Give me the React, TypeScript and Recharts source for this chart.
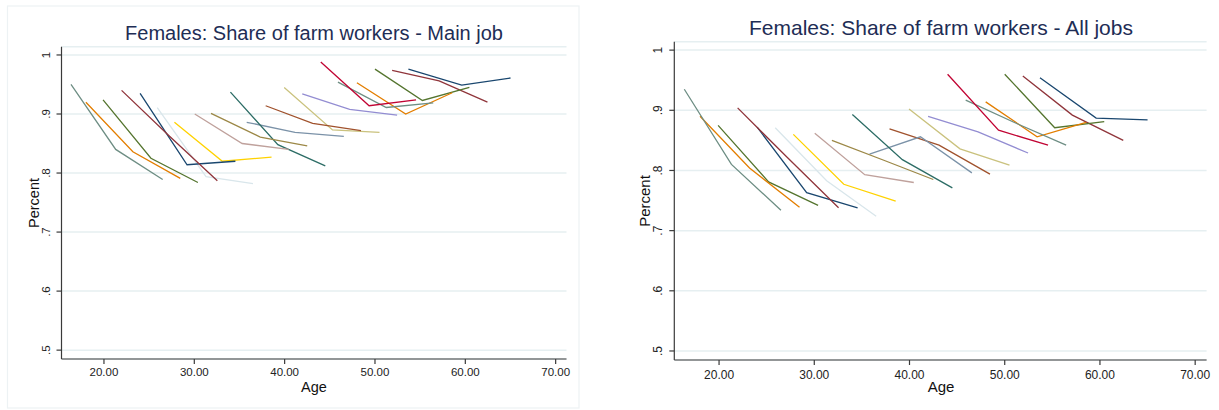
import React from 'react';
import { LineChart, Line, XAxis, YAxis, CartesianGrid } from 'recharts';

// Cohorts, youngest first (by age at first observation)
const cohortLabels = ['c16', 'c18', 'c20', 'c22', 'c24', 'c26', 'c28', 'c30', 'c32', 'c34', 'c36', 'c38', 'c40', 'c42', 'c44', 'c46', 'c48', 'c50', 'c52', 'c54'];

const cohortAges: number[][] = [
  [16.35, 21.3, 26.5],
  [18.0, 23.2, 28.45],
  [19.9, 25.2, 30.4],
  [21.95, 27.2, 32.55],
  [24.0, 29.2, 34.55],
  [25.9, 31.3, 36.5],
  [27.8, 33.1, 38.55],
  [30.05, 35.3, 40.45],
  [31.85, 37.3, 42.5],
  [34.0, 39.25, 44.5],
  [35.8, 41.15, 46.55],
  [37.9, 43.1, 48.45],
  [39.95, 45.3, 50.5],
  [41.95, 47.2, 52.45],
  [44.0, 49.35, 54.55],
  [45.9, 51.25, 56.45],
  [48.0, 53.4, 58.55],
  [50.0, 55.25, 60.45],
  [51.9, 57.1, 62.45],
  [53.7, 59.6, 65.0],
];

const mainJobShare: number[][] = [
  [0.950, 0.840, 0.789],
  [0.920, 0.836, 0.791],
  [0.924, 0.825, 0.784],
  [0.940, 0.863, 0.787],
  [0.935, 0.814, 0.820],
  [0.911, 0.794, 0.782],
  [0.886, 0.820, 0.827],
  [0.900, 0.850, 0.840],
  [0.901, 0.861, 0.846],
  [0.937, 0.848, 0.812],
  [0.886, 0.869, 0.862],
  [0.914, 0.884, 0.872],
  [0.945, 0.873, 0.869],
  [0.934, 0.908, 0.898],
  [0.988, 0.914, 0.924],
  [0.954, 0.911, 0.919],
  [0.953, 0.900, 0.936],
  [0.976, 0.923, 0.945],
  [0.974, 0.956, 0.920],
  [0.976, 0.949, 0.961],
];

const allJobsShare: number[][] = [
  [0.935, 0.810, 0.734],
  [0.890, 0.804, 0.739],
  [0.875, 0.781, 0.742],
  [0.904, 0.821, 0.738],
  [0.872, 0.763, 0.738],
  [0.871, 0.783, 0.724],
  [0.860, 0.777, 0.749],
  [0.862, 0.793, 0.780],
  [0.850, 0.817, 0.785],
  [0.893, 0.818, 0.771],
  [0.827, 0.856, 0.796],
  [0.869, 0.842, 0.794],
  [0.902, 0.836, 0.809],
  [0.890, 0.864, 0.829],
  [0.960, 0.867, 0.842],
  [0.917, 0.878, 0.842],
  [0.914, 0.856, 0.880],
  [0.960, 0.871, 0.881],
  [0.957, 0.892, 0.850],
  [0.954, 0.887, 0.884],
];

const cohortColors = [
  '#6e8e84', '#e37e00', '#55752f', '#90353b', '#1a476f',
  '#d9e6eb', '#ffd200', '#bfa19c', '#9c8847', '#2d6d66',
  '#7b92a8', '#a0522d', '#cac27e', '#938dd2', '#c10534',
  '#6e8e84', '#e37e00', '#55752f', '#90353b', '#1a476f',
];

const xTicks = [20, 30, 40, 50, 60, 70];
const xTickLabels = ['20.00', '30.00', '40.00', '50.00', '60.00', '70.00'];
const yTicks = [0.5, 0.6, 0.7, 0.8, 0.9, 1];
const yTickLabels = ['.5', '.6', '.7', '.8', '.9', '1'];

const titles = ['Females: Share of farm workers - Main job', 'Females: Share of farm workers - All jobs'];
const xTitle = 'Age';
const yTitle = 'Percent';

const FONT = "'Liberation Sans', Arial, Helvetica, sans-serif";
const X_DOMAIN: [number, number] = [15.3, 71.2];
const Y_DOMAIN: [number, number] = [0.485, 1.014];

type PanelProps = {
  values: number[][];
  width: number;
  height: number;
  plotLeft: number;
  plotRight: number;
  plotTop: number;
  plotBottom: number;
  yLabelGap: number;
  xLabelGap: number;
  tickFont: number;
};

function Panel(p: PanelProps) {
  const yAxisWidth = 50;
  const xAxisHeight = 30;
  const margin = {
    top: p.plotTop,
    right: p.width - p.plotRight,
    bottom: p.height - p.plotBottom - xAxisHeight,
    left: p.plotLeft - yAxisWidth,
  };
  const YTick = (props: any) => {
    const { x, y, payload } = props;
    const tx = x - p.yLabelGap;
    const i = yTicks.findIndex((t) => Math.abs(t - payload.value) < 1e-9);
    return (
      <text x={tx} y={y} transform={`rotate(-90, ${tx}, ${y})`} textAnchor="middle" fontSize={p.tickFont} fill="#222" fontFamily={FONT}>
        {i >= 0 ? yTickLabels[i] : String(payload.value)}
      </text>
    );
  };
  const XTick = (props: any) => {
    const { x, y, payload } = props;
    const i = xTicks.findIndex((t) => Math.abs(t - payload.value) < 1e-9);
    return (
      <text x={x} y={y + p.xLabelGap} textAnchor="middle" fontSize={p.tickFont} fill="#222" fontFamily={FONT}>
        {i >= 0 ? xTickLabels[i] : String(payload.value)}
      </text>
    );
  };
  const order = cohortLabels.map((_, i) => i).reverse();
  return (
    <LineChart width={p.width} height={p.height} margin={margin}>
      <CartesianGrid vertical={false} stroke="#e6eff1" strokeWidth={1.5} />
      <XAxis
        type="number"
        dataKey="age"
        domain={X_DOMAIN}
        ticks={xTicks}
        allowDataOverflow
        height={xAxisHeight}
        tickSize={5}
        tickMargin={0}
        axisLine={{ stroke: '#3a3a3a', strokeWidth: 1.2 }}
        tickLine={{ stroke: '#3a3a3a', strokeWidth: 1.2 }}
        tick={<XTick />}
        interval={0}
      />
      <YAxis
        type="number"
        domain={Y_DOMAIN}
        ticks={yTicks}
        allowDataOverflow
        width={yAxisWidth}
        tickSize={5}
        tickMargin={0}
        axisLine={{ stroke: '#3a3a3a', strokeWidth: 1.2 }}
        tickLine={{ stroke: '#3a3a3a', strokeWidth: 1.2 }}
        tick={<YTick />}
        interval={0}
      />
      {order.map((i) => (
        <Line
          key={cohortLabels[i]}
          name={cohortLabels[i]}
          data={cohortAges[i].map((age, j) => ({ age, share: p.values[i][j] }))}
          dataKey="share"
          type="linear"
          stroke={cohortColors[i]}
          strokeWidth={1.3}
          dot={false}
          activeDot={false}
          isAnimationActive={false}
        />
      ))}
    </LineChart>
  );
}

export default function App() {
  const left = { plotLeft: 61.5, plotRight: 566.5, plotTop: 46.7, plotBottom: 359 };
  const right = { plotLeft: 65.3, plotRight: 597.6, plotTop: 41.7, plotBottom: 360 };
  return (
    <div style={{ position: 'absolute', left: 0, top: 0, width: 1219, height: 410, background: '#fff', overflow: 'hidden' }}>
      <div style={{ position: 'absolute', left: 0, top: 0 }}>
        <Panel values={mainJobShare} width={609} height={410} {...left} yLabelGap={6.5} xLabelGap={12} tickFont={11.5} />
      </div>
      <div style={{ position: 'absolute', left: 609, top: 0 }}>
        <Panel values={allJobsShare} width={610} height={410} {...right} yLabelGap={7.3} xLabelGap={14} tickFont={12} />
      </div>
      <svg width={1219} height={410} style={{ position: 'absolute', left: 0, top: 0, pointerEvents: 'none' }}>
        <rect x={7.5} y={6} width={571.5} height={402} fill="none" stroke="#edf2f4" strokeWidth={1.2} />
        <text x={314} y={40} textAnchor="middle" fontSize={20} fill="#1e2d55" fontFamily={FONT}>{titles[0]}</text>
        <text x={941} y={35} textAnchor="middle" fontSize={21} fill="#1e2d55" fontFamily={FONT}>{titles[1]}</text>
        <text x={38.5} y={203} transform="rotate(-90, 38.5, 203)" textAnchor="middle" fontSize={14.5} fill="#111" fontFamily={FONT}>{yTitle}</text>
        <text x={649.5} y={201} transform="rotate(-90, 649.5, 201)" textAnchor="middle" fontSize={15} fill="#111" fontFamily={FONT}>{yTitle}</text>
        <text x={314} y={392} textAnchor="middle" fontSize={14.5} fill="#111" fontFamily={FONT}>{xTitle}</text>
        <text x={941} y={392} textAnchor="middle" fontSize={15} fill="#111" fontFamily={FONT}>{xTitle}</text>
      </svg>
    </div>
  );
}
